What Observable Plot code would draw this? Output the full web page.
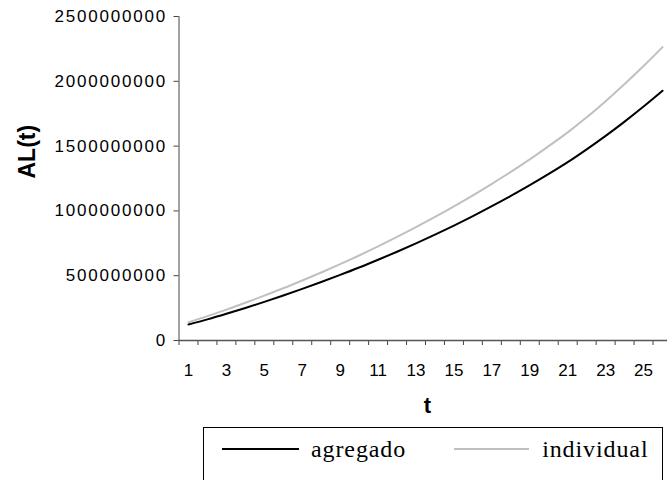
<!DOCTYPE html>
<html><head><meta charset="utf-8">
<script src="https://cdn.jsdelivr.net/npm/d3@7"></script>
<script src="https://cdn.jsdelivr.net/npm/@observablehq/plot@0.6"></script>
<style>
html,body{margin:0;padding:0;background:#fff;overflow:hidden}
#wrap{position:relative;width:667px;height:480px;overflow:hidden}
#wrap svg text{font-family:"Liberation Sans",Arial,sans-serif}
g[aria-label="y-axis tick label"] text{letter-spacing:1.8px}
#legend{position:absolute;left:203px;top:427px;width:460px;height:56px;border:1.5px solid #000;box-sizing:border-box;
  font-family:"Liberation Serif","Times New Roman",serif;font-size:24px;display:flex;align-items:flex-start;padding-left:18px;padding-top:0}
#legend .item{display:flex;align-items:center;height:42px}
#legend .sw{display:inline-block;height:0}
#legend .lab{line-height:1;letter-spacing:0.9px}
</style></head><body><div id="wrap"></div>
<script>
const t = [1,2,3,4,5,6,7,8,9,10,11,12,13,14,15,16,17,18,19,20,21,22,23,24,25,26];
const agregado = [123000000,163000000,206000000,251000000,298000000,347000000,398000000,451000000,506000000,563000000,623000000,685000000,750000000,817000000,887000000,960000000,1036000000,1115000000,1198000000,1285000000,1376000000,1475000000,1579000000,1689000000,1805000000,1927000000];
const individual = [141000000,188000000,238000000,291000000,346000000,403000000,463000000,525000000,589000000,656000000,726000000,799000000,875000000,953000000,1035000000,1120000000,1209000000,1301000000,1398000000,1500000000,1606000000,1722000000,1847000000,1979000000,2118000000,2264000000];
const seriesNames = ["agregado","individual"];
const seriesColors = ["#000000","#c0c0c0"];
const yTicks = [0,500000000,1000000000,1500000000,2000000000,2500000000];
const xLabelTicks = [1,3,5,7,9,11,13,15,17,19,21,23,25];
const xBoundaryTicks = [0.5,1.5,2.5,3.5,4.5,5.5,6.5,7.5,8.5,9.5,10.5,11.5,12.5,13.5,14.5,15.5,16.5,17.5,18.5,19.5,20.5,21.5,22.5,23.5,24.5,25.5,26.5];
const yTitle = "AL(t)";
const xTitle = "t";

const seriesValues = [agregado, individual];
const rows = [];
seriesNames.forEach((s, k) => t.forEach((tt, i) => rows.push({t: tt, value: seriesValues[k][i], series: s})));

const chart = Plot.plot({
  width: 667, height: 425,
  marginLeft: 178.5, marginRight: -4.5, marginTop: 16, marginBottom: 85,
  style: {fontFamily: "'Liberation Sans', Arial, sans-serif", fontSize: "17px", color: "#000", background: "#fff", overflow: "visible"},
  x: {domain: [0.5, 26.5]},
  y: {domain: [0, 2500000000]},
  color: {domain: seriesNames, range: seriesColors},
  marks: [
    Plot.axisY(yTicks, {anchor: "left", tickSize: 5, tickPadding: 7, tickFormat: d3.format("d"), label: null, stroke: "#444", fill: "#000", fontSize: 17}),
    Plot.axisX(xBoundaryTicks, {anchor: "bottom", tickSize: 5, tickFormat: () => "", label: null, stroke: "#444"}),
    Plot.axisX(xLabelTicks, {anchor: "bottom", tickSize: 0, tickPadding: 23, label: null, fill: "#000", fontSize: 17}),
    Plot.ruleX([0.5], {stroke: "#444"}),
    Plot.ruleY([0], {stroke: "#555", strokeWidth: 1.3}),
    Plot.line(rows, {x: "t", y: "value", z: "series", stroke: "series", strokeWidth: 2, curve: "monotone-x"}),
    Plot.text([yTitle], {text: d => d, frameAnchor: "left", dx: -151, rotate: -90, fontSize: 23, fontWeight: "bold", fill: "#000"}),
    Plot.text([xTitle], {text: d => d, frameAnchor: "bottom", dx: 2, dy: 72, fontSize: 22, fontWeight: "bold", fill: "#000"})
  ]
});
const wrap = document.getElementById("wrap");
wrap.appendChild(chart);

const legend = document.createElement("div");
legend.id = "legend";
const swWidths = [77, 75];
const swGaps = [12, 13];
seriesNames.forEach((s, i) => {
  const item = document.createElement("div");
  item.className = "item";
  if (i > 0) item.style.marginLeft = "48px";
  const sw = document.createElement("span");
  sw.className = "sw";
  sw.style.width = swWidths[i] + "px";
  sw.style.borderTop = "2px solid " + seriesColors[i];
  sw.style.marginRight = swGaps[i] + "px";
  const lab = document.createElement("span");
  lab.className = "lab";
  lab.textContent = s;
  item.appendChild(sw);
  item.appendChild(lab);
  legend.appendChild(item);
});
wrap.appendChild(legend);
</script>
</body></html>
